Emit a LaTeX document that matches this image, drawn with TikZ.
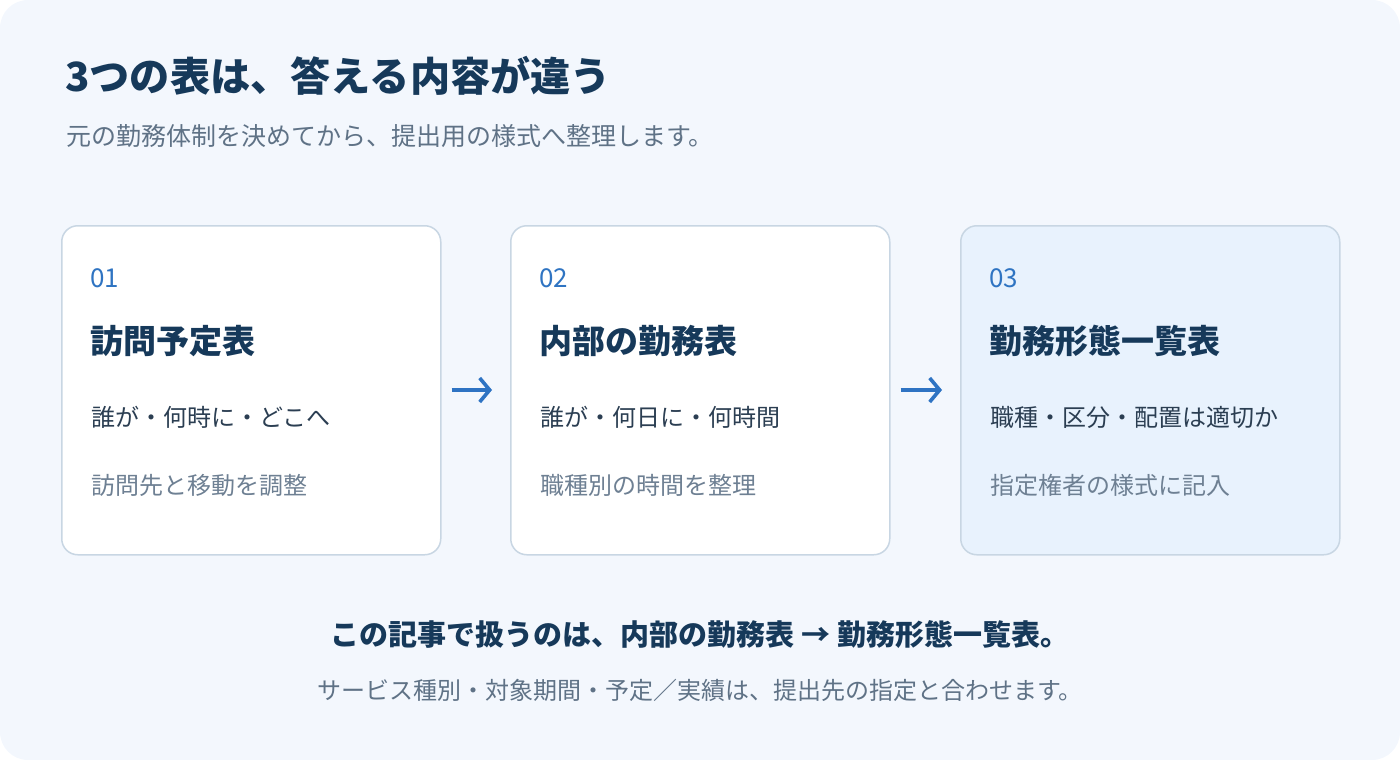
\documentclass[tikz,border=0pt]{standalone}
\usepackage{fontspec}
\setmainfont{Noto Sans CJK JP}
\usetikzlibrary{arrows.meta}
\definecolor{bgc}{HTML}{F3F7FD}
\definecolor{cardline}{HTML}{C8D6E3}
\definecolor{cardhl}{HTML}{E8F2FD}
\definecolor{navy}{HTML}{16395A}
\definecolor{subgray}{HTML}{5F7286}
\definecolor{numblue}{HTML}{2F74C2}
\definecolor{linedark}{HTML}{2B3E52}
\definecolor{linegray}{HTML}{6E8093}
\definecolor{arrowblue}{HTML}{2E73C3}
\newcommand{\fs}[1]{\fontsize{#1}{#1}\selectfont}
\tikzset{
  cardbox/.style={draw=cardline, line width=1.5pt, fill=white, rounded corners=16pt,
    minimum width=379pt, minimum height=329pt, anchor=north west, inner sep=0pt},
  txt/.style={anchor=base west, inner sep=0pt},
  numtxt/.style={txt, text=numblue, font=\fs{26}},
  cardtitle/.style={txt, text=navy, font=\bfseries\fs{33}},
  lineone/.style={txt, text=linedark, font=\fs{24}},
  linetwo/.style={txt, text=linegray, font=\fs{24}},
  flowarrow/.style={draw=arrowblue, line width=3.2pt, line cap=butt,
    -{Straight Barb[length=10pt,width=24pt,line width=3.6pt]},
    shorten <=10pt, shorten >=18pt}
}
\begin{document}
\begin{tikzpicture}[x=1pt,y=-1pt]
\useasboundingbox (0,0) rectangle (1400,760);
\fill[bgc, rounded corners=28pt] (0,0) rectangle (1400,760);

\node[txt, text=navy, font=\bfseries\fs{40.2}] (title) at (65,92) {3つの表は、答える内容が違う};
\node[txt, text=subgray, font=\fs{25}] (subtitle) at (66,145) {元の勤務体制を決めてから、提出用の様式へ整理します。};

\node[cardbox] (c1) at (61,225) {};
\node[cardbox] (c2) at (510,225) {};
\node[cardbox, fill=cardhl] (c3) at (960,225) {};

\node[numtxt] (n1) at (90,287) {01};
\node[cardtitle] (t1) at (90,353) {訪問予定表};
\node[lineone] (a1) at (91,426) {誰が・何時に・どこへ};
\node[linetwo] (b1) at (91,494) {訪問先と移動を調整};

\node[numtxt] (n2) at (539,287) {02};
\node[cardtitle] (t2) at (539,353) {内部の勤務表};
\node[lineone] (a2) at (540,426) {誰が・何日に・何時間};
\node[linetwo] (b2) at (540,494) {職種別の時間を整理};

\node[numtxt] (n3) at (989,287) {03};
\node[cardtitle] (t3) at (989,353) {勤務形態一覧表};
\node[lineone] (a3) at (990,426) {職種・区分・配置は適切か};
\node[linetwo] (b3) at (990,494) {指定権者の様式に記入};

\draw[flowarrow] (c1.east |- 0,390) -- (c2.west |- 0,390);
\draw[flowarrow] (c2.east |- 0,390) -- (c3.west |- 0,390);

\node[anchor=base, inner sep=0pt, text=navy, font=\bfseries\fs{29}] (lead) at (700,645) {この記事で扱うのは、内部の勤務表 → 勤務形態一覧表。};
\node[anchor=base, inner sep=0pt, text=subgray, font=\fs{24}] (note) at (700,699) {サービス種別・対象期間・予定／実績は、提出先の指定と合わせます。};
\end{tikzpicture}
\end{document}
